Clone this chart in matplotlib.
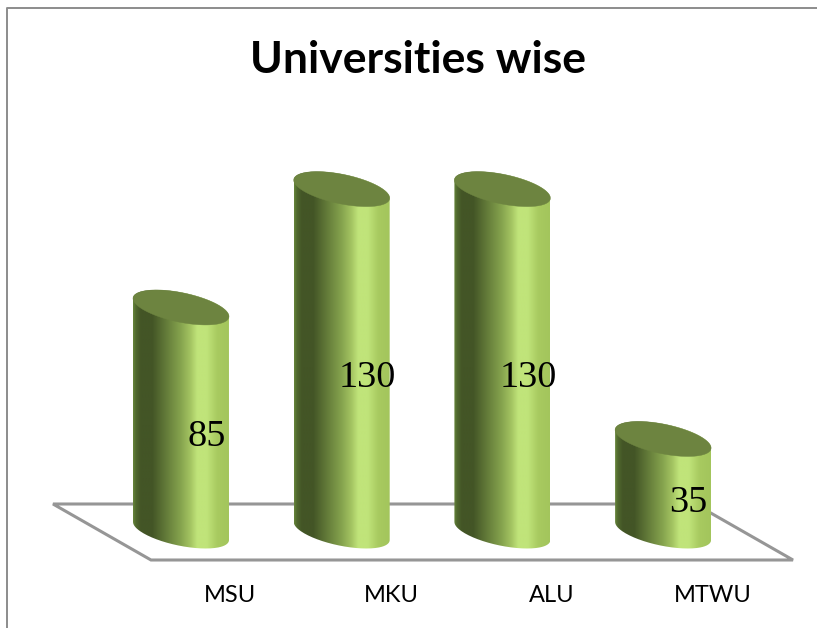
import numpy as np
import matplotlib
matplotlib.use('Agg')
import matplotlib.pyplot as plt
from matplotlib.colors import LinearSegmentedColormap
from matplotlib.patches import Polygon, PathPatch
from matplotlib.path import Path
from matplotlib.lines import Line2D

categories = ['MSU', 'MKU', 'ALU', 'MTWU']
values = [85, 130, 130, 35]
title = 'Universities wise'

W, H = 817, 628
X0, DX = 181.0, 160.7      # pixel of first category, pixels per category
Y0, DY = 531.0, 2.63       # pixel of value 0, pixels per unit

fig = plt.figure(figsize=(W/100, H/100), dpi=100, facecolor='white')
ax = fig.add_axes([0, 0, 1, 1])
ax.set_xlim(-X0/DX, (W-X0)/DX)
ax.set_ylim((Y0-H)/DY, Y0/DY)
ax.axis('off')

# frame and floor in figure pixels (y measured from the top)
def fp(pts):
    return [(x/W, 1-y/H) for x, y in pts]

GREY = '#8c8c8c'
fig.add_artist(Line2D(*zip(*fp([(7, 628), (7, 8), (817, 8)])), color=GREY, lw=1.4,
                      transform=fig.transFigure))
ax.add_patch(Polygon(fp([(53, 504), (151, 560), (793, 560), (695, 504)]), closed=True,
                     transform=fig.transFigure, fc='white', ec='#969696', lw=2.2,
                     joinstyle='miter', zorder=1))

cmap = LinearSegmentedColormap.from_list('cyl', [
    (0.00, '#66853a'), (0.03, '#50682e'), (0.08, '#435526'), (0.20, '#435526'),
    (0.50, '#86a44e'), (0.60, '#a4c462'), (0.67, '#c0e47a'),
    (0.77, '#c0e47a'), (0.88, '#a8ca60'), (1.00, '#a3c55c')])
grad = np.linspace(0, 1, 256)[None, :]

HALF_W = 48.0 / DX      # half cylinder width, in category units
TILT = 9.0 / DY         # ellipse tilt, in value units
MINOR = 15.0 / DY       # ellipse minor half-axis, in value units

def ellipse(cx, cy, t):
    return np.column_stack([cx + HALF_W*np.cos(t),
                            cy - TILT*np.cos(t) + MINOR*np.sin(t)])

for i, (name, v) in enumerate(zip(categories, values)):
    bottom = ellipse(i, 0, np.linspace(np.pi, 2*np.pi, 80))
    top = ellipse(i, v, np.linspace(0, np.pi, 80))
    body = np.vstack([bottom, top, bottom[:1]])
    clip = PathPatch(Path(body), transform=ax.transData, fc='none', ec='none')
    ax.add_patch(clip)
    im = ax.imshow(grad, cmap=cmap, aspect='auto', interpolation='bilinear',
                   extent=[i-HALF_W, i+HALF_W, -12, v+12], zorder=2)
    im.set_clip_path(clip)
    cap = ellipse(i, v, np.linspace(0, 2*np.pi, 160))
    ax.add_patch(Polygon(cap, closed=True, fc='#6d8440', ec='#6d8440', lw=0.3, zorder=3))
    ax.annotate(str(v), (i, v/2), xytext=(25.5*0.72, -18*0.72), textcoords='offset points',
                ha='center', va='center', fontsize=27.5, family='Liberation Serif',
                color='black', zorder=5)
    ax.annotate(name, (i, 0), xytext=(49.5*0.72, -64*0.72), textcoords='offset points',
                ha='center', va='center', fontsize=17, family='Lato', color='black')

ax.set_xlim(-X0/DX, (W-X0)/DX)
ax.set_ylim((Y0-H)/DY, Y0/DY)
ax.set_aspect('auto')
fig.text(418/W, 1-60/H, title, ha='center', va='center', fontsize=32,
         fontweight='bold', family='Lato', color='black')
fig.savefig('out.png', dpi=100, facecolor='white')
